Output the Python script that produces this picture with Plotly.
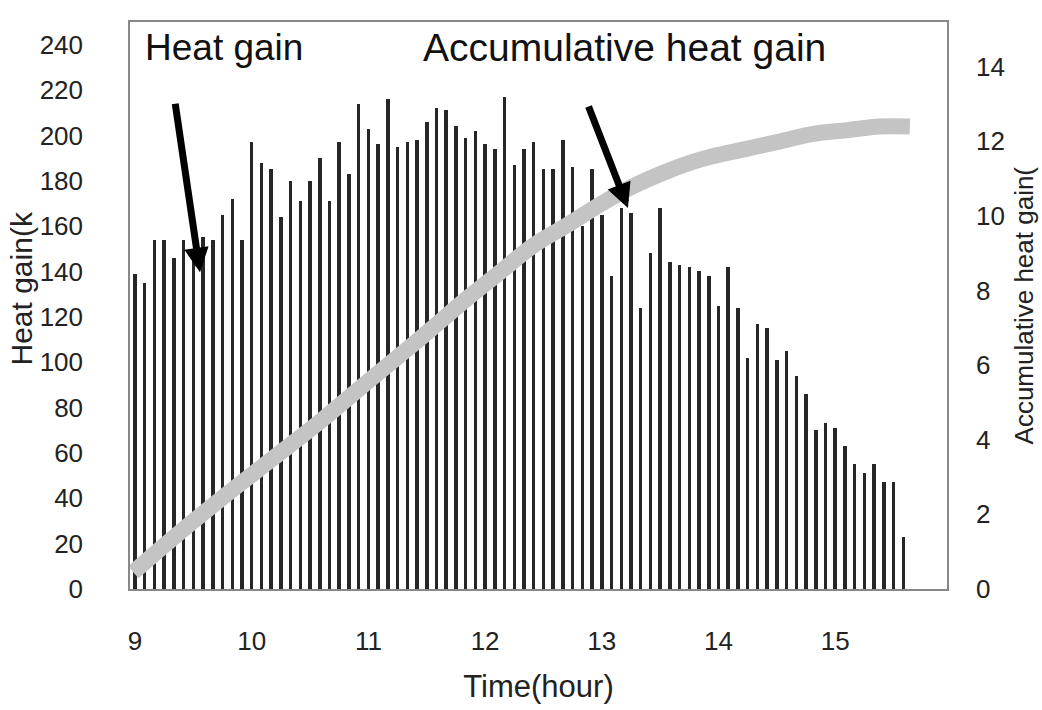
import plotly.graph_objects as go

# Heat gain sampled every 5 minutes from 9:00 (kW)
heat_gain = [139, 135, 154, 154, 146, 154, 148, 155, 154, 165,
             172, 154, 197, 188, 185, 164, 180, 171, 180, 190,
             171, 197, 183, 214, 203, 196, 216, 195, 197, 198,
             206, 212, 211, 204, 199, 202, 196, 194, 217, 187,
             194, 197, 185, 185, 198, 186, 160, 185, 165, 138,
             168, 166, 124, 148, 168, 144, 143, 142, 140, 138,
             125, 142, 124, 102, 117, 115, 101, 105, 94, 86,
             70, 73, 71, 63, 55, 51, 55, 47, 47, 23]
sample_minutes = list(range(0, 5 * len(heat_gain), 5))
sample_hours = [9 + m / 60 for m in sample_minutes]

# Accumulative heat gain curve
acc_hours = [8.985, 9.30, 9.73, 10.16, 10.59, 11.01, 11.38, 11.55, 11.85,
             12.13, 12.41, 12.70, 12.98, 13.27, 13.56, 13.78, 13.95, 14.24,
             14.53, 14.81, 15.10, 15.38, 15.64]
acc_gain = [0.45, 1.3, 2.4, 3.45, 4.5, 5.6, 6.55, 7.0, 7.8,
            8.5, 9.2, 9.75, 10.3, 10.8, 11.2, 11.45, 11.6, 11.8,
            12.0, 12.2, 12.3, 12.4, 12.4]

x_ticks = [9, 10, 11, 12, 13, 14, 15]
left_ticks = list(range(0, 241, 20))
right_ticks = list(range(0, 15, 2))

FONT = "Liberation Sans"
INK = "#222"

fig = go.Figure()
fig.add_trace(go.Bar(
    x=sample_hours, y=heat_gain, width=0.03,
    marker=dict(color="#262626", line=dict(width=0)),
    showlegend=False,
))
fig.add_trace(go.Scatter(
    x=acc_hours, y=acc_gain, yaxis="y2", mode="lines",
    line=dict(color="#c4c4c4", width=16, shape="spline"),
    showlegend=False,
))

# Text labels and arrows inside the plot
fig.add_annotation(x=0.016, y=0.955, xref="paper", yref="paper",
                   text="Heat gain", showarrow=False, xanchor="left", yanchor="middle",
                   font=dict(family=FONT, size=37, color="#111"))
fig.add_annotation(x=0.605, y=0.955, xref="paper", yref="paper",
                   text="Accumulative heat gain", showarrow=False, xanchor="center", yanchor="middle",
                   font=dict(family=FONT, size=39, color="#111"))
fig.add_annotation(x=0.0857, y=0.5585, xref="paper", yref="paper", text="",
                   showarrow=True, ax=-25, ay=-170, arrowhead=2, arrowsize=0.7,
                   arrowwidth=7, arrowcolor="#000", standoff=0)
fig.add_annotation(x=0.6095, y=0.672, xref="paper", yref="paper", text="",
                   showarrow=True, ax=-40, ay=-103, arrowhead=2, arrowsize=0.7,
                   arrowwidth=7, arrowcolor="#000", standoff=0)

# Axis titles
fig.add_annotation(x=-0.156, y=0.53, xref="paper", yref="paper",
                   text="Heat gain(k", showarrow=False, textangle=-90,
                   font=dict(family=FONT, size=30, color=INK))
fig.add_annotation(x=1.115, y=0.50, xref="paper", yref="paper",
                   text="Accumulative heat gain(", showarrow=False, textangle=-90,
                   font=dict(family=FONT, size=26, color=INK))

fig.update_layout(
    width=1042, height=710,
    margin=dict(l=130, r=95, t=22, b=115),
    paper_bgcolor="white", plot_bgcolor="white",
    bargap=0,
    font=dict(family=FONT, size=26, color=INK),
    xaxis=dict(range=[8.957, 15.958], tickvals=x_ticks, ticktext=[str(t) for t in x_ticks],
               showgrid=False, zeroline=False, ticks="", ticklabelstandoff=28,
               showline=True, mirror=True, linecolor="#888", linewidth=1.5,
               title=dict(text="Time(hour)", standoff=20,
                          font=dict(family=FONT, size=31, color=INK))),
    yaxis=dict(range=[0, 250], tickvals=left_ticks, showgrid=False, zeroline=False,
               ticks="", ticklabelstandoff=40,
               showline=True, mirror=True, linecolor="#888", linewidth=1.5),
    yaxis2=dict(range=[0, 15.2], tickvals=right_ticks, overlaying="y", side="right",
                showgrid=False, zeroline=False, ticks="", ticklabelstandoff=28,
                showline=False),
)

fig.write_html("out.html")
